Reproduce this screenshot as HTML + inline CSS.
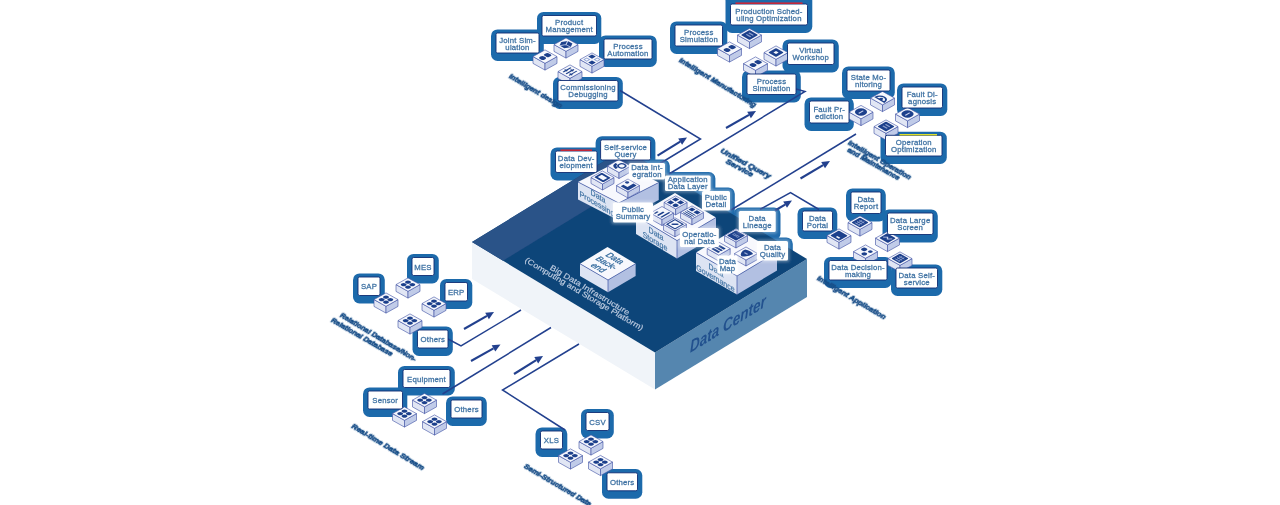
<!DOCTYPE html><html><head><meta charset="utf-8"><title>Data Center</title><style>html,body{margin:0;padding:0;background:#fff;width:1280px;height:505px;overflow:hidden}svg{display:block}text{font-family:"Liberation Sans",sans-serif}.lt{letter-spacing:.2px}</style></head><body><svg width="1280" height="505" viewBox="0 0 1280 505">
<defs><filter id="b0" x="-10%" y="-50%" width="120%" height="200%"><feGaussianBlur stdDeviation="0.35"/></filter><filter id="b1" x="-20%" y="-20%" width="140%" height="140%"><feGaussianBlur stdDeviation="1.6"/></filter><filter id="b2"><feGaussianBlur stdDeviation="0.3"/></filter><linearGradient id="gt" x1="0" y1="0" x2="1" y2="1"><stop offset="0" stop-color="#eef1fa"/><stop offset=".5" stop-color="#ffffff"/><stop offset="1" stop-color="#f1f3fb"/></linearGradient></defs>
<rect width="1280" height="505" fill="#fff"/>
<g filter="url(#b2)">
<rect x="537.0" y="11.9" width="64.3" height="32.1" rx="6.5" fill="#1f6aab"/>
<rect x="491.0" y="29.4" width="52.8" height="31.6" rx="6.5" fill="#1f6aab"/>
<rect x="599.0" y="35.4" width="57.8" height="31.6" rx="6.5" fill="#1f6aab"/>
<rect x="553.0" y="76.9" width="69.8" height="32.1" rx="6.5" fill="#1f6aab"/>
<rect x="670.0" y="21.4" width="57.3" height="32.6" rx="6.5" fill="#1f6aab"/>
<rect x="725.5" y="-6" width="86.8" height="39.0" rx="6.5" fill="#1f6aab"/>
<rect x="782.5" y="39.4" width="56.3" height="33.1" rx="6.5" fill="#1f6aab"/>
<rect x="742.0" y="70.4" width="58.8" height="32.1" rx="6.5" fill="#1f6aab"/>
<rect x="842.0" y="66.4" width="52.8" height="32.6" rx="6.5" fill="#1f6aab"/>
<rect x="897.0" y="83.4" width="50.3" height="32.6" rx="6.5" fill="#1f6aab"/>
<rect x="804.5" y="97.4" width="49.3" height="33.6" rx="6.5" fill="#1f6aab"/>
<rect x="880.5" y="131.7" width="66.3" height="32.3" rx="6.5" fill="#1f6aab"/>
<rect x="846.0" y="188.4" width="39.8" height="33.1" rx="6.5" fill="#1f6aab"/>
<rect x="797.5" y="207.4" width="39.8" height="31.6" rx="6.5" fill="#1f6aab"/>
<rect x="882.5" y="209.4" width="55.3" height="33.1" rx="6.5" fill="#1f6aab"/>
<rect x="824.0" y="256.9" width="67.8" height="31.1" rx="6.5" fill="#1f6aab"/>
<rect x="891.0" y="264.4" width="51.3" height="31.6" rx="6.5" fill="#1f6aab"/>
<rect x="407.0" y="253.9" width="31.8" height="29.6" rx="6.5" fill="#1f6aab"/>
<rect x="353.0" y="273.4" width="31.8" height="30.1" rx="6.5" fill="#1f6aab"/>
<rect x="440.0" y="278.9" width="32.3" height="30.1" rx="6.5" fill="#1f6aab"/>
<rect x="412.5" y="326.4" width="40.3" height="29.6" rx="6.5" fill="#1f6aab"/>
<rect x="398.0" y="365.9" width="56.8" height="29.6" rx="6.5" fill="#1f6aab"/>
<rect x="363.0" y="387.4" width="44.3" height="29.6" rx="6.5" fill="#1f6aab"/>
<rect x="446.0" y="396.4" width="40.8" height="29.6" rx="6.5" fill="#1f6aab"/>
<rect x="535.5" y="427.4" width="31.8" height="29.6" rx="6.5" fill="#1f6aab"/>
<rect x="581.0" y="408.9" width="32.8" height="29.6" rx="6.5" fill="#1f6aab"/>
<rect x="602.0" y="469.1" width="40.3" height="29.6" rx="6.5" fill="#1f6aab"/>
<rect x="550.5" y="147.4" width="51.3" height="33.1" rx="6.5" fill="#1f6aab"/>
<rect x="595.6" y="136.2" width="59.8" height="31.9" rx="6.5" fill="#1f6aab"/>
<rect x="624.0" y="159.4" width="45.8" height="28.0" rx="6.5" fill="#1f6aab"/>
<rect x="660.0" y="172.0" width="55.4" height="27.0" rx="6.5" fill="#1f6aab"/>
<rect x="697.0" y="187.4" width="37.8" height="31.2" rx="6.5" fill="#1f6aab"/>
<rect x="733.8" y="207.4" width="46.7" height="32.6" rx="6.5" fill="#1f6aab"/>
<rect x="752.0" y="237.4" width="40.8" height="31.1" rx="6.5" fill="#1f6aab"/>
<rect x="608.0" y="198.9" width="49.8" height="31.6" rx="6.5" fill="#1f6aab"/>
<rect x="675.0" y="224.4" width="48.5" height="30.6" rx="6.5" fill="#1f6aab"/>
<rect x="712.5" y="252.0" width="29.8" height="29.5" rx="6.5" fill="#1f6aab"/>
<path d="M472 242 L655 352.5 L655 389.5 L472 279Z" fill="#f0f4f9"/>
<path d="M807 259 L655 352.5 L655 389.5 L807 297Z" fill="#5586af"/>
<path d="M472 242 L624 149 L807 259 L655 352.5Z" fill="#0e4579"/>
<path d="M472 242 L624 149 L655 167.7 L503 260.7Z" fill="#2b5288"/>
<text transform="matrix(0.852 -0.524 0 1 690 353)" font-size="17" font-weight="bold" font-style="italic" fill="#22518e" textLength="89" lengthAdjust="spacingAndGlyphs">Data Center</text>
<text transform="matrix(0.861 0.509 -0.486 0.756 549.3 268.9)" font-size="8.6" fill="#bccbe0" stroke="#bccbe0" stroke-width=".2" font-weight="normal" text-anchor="start" textLength="91" lengthAdjust="spacingAndGlyphs">Big Data Infrastructure</text>
<text transform="matrix(0.861 0.509 -0.486 0.756 524.3 261.6)" font-size="8.6" fill="#bccbe0" stroke="#bccbe0" stroke-width=".2" font-weight="normal" text-anchor="start" textLength="136" lengthAdjust="spacingAndGlyphs">(Computing and Storage Platform)</text>
<path d="M580 263.75 L608 280 L608 292.3 L580 276.05Z" fill="#dde4f3"/><path d="M635.6 263.75 L608 280 L608 292.3 L635.6 276.05Z" fill="#b2c0e2"/><path d="M580 263.75 L607.5 247 L635.6 263.75 L608 280Z" fill="#f7f8fd"/><path d="M580 263.75 L608 280 L635.6 263.75 M608 280 V292.3" fill="none" stroke="#3b50a3" stroke-width=".7"/>
<text transform="matrix(0.775 0.458 -0.86 0.5 612.3 260.0)" font-size="9.3" fill="#336a9d" stroke="#336a9d" stroke-width=".3" text-anchor="middle">Data</text>
<text transform="matrix(0.775 0.458 -0.86 0.5 604.0 264.6)" font-size="9.3" fill="#336a9d" stroke="#336a9d" stroke-width=".3" text-anchor="middle">Back-</text>
<text transform="matrix(0.775 0.458 -0.86 0.5 595.7 269.2)" font-size="9.3" fill="#336a9d" stroke="#336a9d" stroke-width=".3" text-anchor="middle">end</text>
<path d="M578 182 L618.75 203 L618.75 220.5 L578 199.5Z" fill="#dde4f3"/><path d="M658.75 182.5 L618.75 203 L618.75 220.5 L658.75 200.0Z" fill="#b2c0e2"/><path d="M578 182 L618 161.5 L658.75 182.5 L618.75 203Z" fill="#f7f8fd"/><path d="M578 182 L618.75 203 L658.75 182.5 M618.75 203 V220.5" fill="none" stroke="#3b50a3" stroke-width=".7"/>
<path d="M636 216 L677 240.6 L677 258.6 L636 234Z" fill="#dde4f3"/><path d="M716 217.5 L677 240.6 L677 258.6 L716 235.5Z" fill="#b2c0e2"/><path d="M636 216 L675 193 L716 217.5 L677 240.6Z" fill="#f7f8fd"/><path d="M636 216 L677 240.6 L716 217.5 M677 240.6 V258.6" fill="none" stroke="#3b50a3" stroke-width=".7"/>
<path d="M696 252.5 L737 276 L737 294.5 L696 271.0Z" fill="#dde4f3"/><path d="M777 252 L737 276 L737 294.5 L777 270.5Z" fill="#b2c0e2"/><path d="M696 252.5 L736 228.5 L777 252 L737 276Z" fill="#f7f8fd"/><path d="M696 252.5 L737 276 L777 252 M737 276 V294.5" fill="none" stroke="#3b50a3" stroke-width=".7"/>
<text transform="matrix(0.86 0.51 0 1 598 199)" font-size="8.2" fill="#3f72a3" stroke="#3f72a3" stroke-width=".2" text-anchor="middle">Data</text>
<text transform="matrix(0.86 0.51 0 1 597 206.5)" font-size="8.2" fill="#3f72a3" stroke="#3f72a3" stroke-width=".2" text-anchor="middle">Processing</text>
<text transform="matrix(0.86 0.51 0 1 656 236.5)" font-size="8.2" fill="#3f72a3" stroke="#3f72a3" stroke-width=".2" text-anchor="middle">Data</text>
<text transform="matrix(0.86 0.51 0 1 655 244)" font-size="8.2" fill="#3f72a3" stroke="#3f72a3" stroke-width=".2" text-anchor="middle">Storage</text>
<text transform="matrix(0.86 0.51 0 1 716 273)" font-size="8.2" fill="#3f72a3" stroke="#3f72a3" stroke-width=".2" text-anchor="middle">Data</text>
<text transform="matrix(0.86 0.51 0 1 715.5 281)" font-size="8.2" fill="#3f72a3" stroke="#3f72a3" stroke-width=".2" text-anchor="middle">Governance</text>
<path d="M620.0 90.5 L700.5 139.0 L660.0 163.5" stroke="#22408e" stroke-width="1.5" fill="none" stroke-linejoin="miter"/>
<path d="M657.5 155.6 L680.2 141.7" stroke="#22408e" stroke-width="2.1" fill="none"/><path d="M687.0 137.5 L682.1 144.8 L678.2 138.5Z" fill="#22408e"/>
<path d="M796.0 89.0 L805.0 91.5 L669.0 174.0" stroke="#22408e" stroke-width="1.5" fill="none" stroke-linejoin="miter"/>
<path d="M726.0 128.0 L749.0 114.9" stroke="#22408e" stroke-width="2.1" fill="none"/><path d="M756.0 111.0 L750.9 118.2 L747.2 111.7Z" fill="#22408e"/>
<path d="M856.0 134.0 L731.0 210.0" stroke="#22408e" stroke-width="1.5" fill="none" stroke-linejoin="miter"/>
<path d="M800.5 178.5 L823.1 165.1" stroke="#22408e" stroke-width="2.1" fill="none"/><path d="M830.0 161.0 L825.0 168.3 L821.2 161.9Z" fill="#22408e"/>
<path d="M760.0 209.5 L790.5 192.5 L819.0 209.5" stroke="#22408e" stroke-width="1.5" fill="none" stroke-linejoin="miter"/>
<path d="M775.0 210.5 L785.1 204.6" stroke="#22408e" stroke-width="2.1" fill="none"/><path d="M792.0 200.5 L787.0 207.7 L783.2 201.4Z" fill="#22408e"/>
<path d="M448.0 339.0 L461.0 346.0 L521.0 310.0" stroke="#22408e" stroke-width="1.5" fill="none" stroke-linejoin="miter"/>
<path d="M464.0 329.0 L487.0 315.9" stroke="#22408e" stroke-width="2.1" fill="none"/><path d="M494.0 312.0 L488.9 319.2 L485.2 312.7Z" fill="#22408e"/>
<path d="M442.5 394.0 L551.0 327.5" stroke="#22408e" stroke-width="1.5" fill="none" stroke-linejoin="miter"/>
<path d="M471.0 361.0 L493.5 348.4" stroke="#22408e" stroke-width="2.1" fill="none"/><path d="M500.5 344.5 L495.3 351.6 L491.7 345.2Z" fill="#22408e"/>
<path d="M579.0 344.0 L502.5 390.0 L565.0 430.0" stroke="#22408e" stroke-width="1.5" fill="none" stroke-linejoin="miter"/>
<path d="M514.0 374.0 L536.2 360.2" stroke="#22408e" stroke-width="2.1" fill="none"/><path d="M543.0 356.0 L538.2 363.4 L534.3 357.1Z" fill="#22408e"/>
<g><path d="M554.0 44.6 L566.0 51.3 L566.0 58.1 L554.0 51.4Z" fill="#e1e6f4" stroke="#3d4fa3" stroke-width=".6"/><path d="M578.0 44.6 L566.0 51.3 L566.0 58.1 L578.0 51.4Z" fill="#c0cbe8" stroke="#3d4fa3" stroke-width=".6"/><path d="M554.0 44.6 L566.0 37.9 L578.0 44.6 L566.0 51.3Z" fill="#f6f8fd" stroke="#3d4fa3" stroke-width=".6"/><g transform="translate(566.0 44.6) matrix(0.866 0.5 -0.866 0.5 0 0)" fill="#1f418c"><path d="M5.4 0L2.7 4.7L-2.7 4.7L-5.4 0L-2.7 -4.7L2.7 -4.7Z"/><path d="M0 0L5.4 0M0 0L-2.7 4.7M0 0L-2.7 -4.7" stroke="#c9d3ee" stroke-width=".9"/></g></g>
<g><path d="M533.0 56.6 L545.0 63.3 L545.0 70.1 L533.0 63.4Z" fill="#e1e6f4" stroke="#3d4fa3" stroke-width=".6"/><path d="M557.0 56.6 L545.0 63.3 L545.0 70.1 L557.0 63.4Z" fill="#c0cbe8" stroke="#3d4fa3" stroke-width=".6"/><path d="M533.0 56.6 L545.0 49.9 L557.0 56.6 L545.0 63.3Z" fill="#f6f8fd" stroke="#3d4fa3" stroke-width=".6"/><g transform="translate(545.0 56.6) matrix(0.866 0.5 -0.866 0.5 0 0)" fill="#1f418c"><g transform="rotate(-90)"><rect x="-5.2" y="-2.7" width="4.8" height="5.4" rx="2.2"/><rect x="0.6" y="-2.7" width="4.8" height="5.4" rx="1.3"/></g></g></g>
<g><path d="M580.0 59.6 L592.0 66.3 L592.0 73.1 L580.0 66.4Z" fill="#e1e6f4" stroke="#3d4fa3" stroke-width=".6"/><path d="M604.0 59.6 L592.0 66.3 L592.0 73.1 L604.0 66.4Z" fill="#c0cbe8" stroke="#3d4fa3" stroke-width=".6"/><path d="M580.0 59.6 L592.0 52.9 L604.0 59.6 L592.0 66.3Z" fill="#f6f8fd" stroke="#3d4fa3" stroke-width=".6"/><g transform="translate(592.0 59.6) matrix(0.866 0.5 -0.866 0.5 0 0)" fill="#1f418c"><rect x="-5.2" y="-5.2" width="4.4" height="4.4"/><rect x="0.8" y="0.8" width="4.4" height="4.4"/><rect x="-4.6" y="1.4" width="3.2" height="3.2" fill="none" stroke="#8ea2d3" stroke-width="1"/><rect x="1.4" y="-4.6" width="3.2" height="3.2" fill="none" stroke="#8ea2d3" stroke-width="1"/></g></g>
<g><path d="M558.0 71.6 L570.0 78.3 L570.0 85.1 L558.0 78.4Z" fill="#e1e6f4" stroke="#3d4fa3" stroke-width=".6"/><path d="M582.0 71.6 L570.0 78.3 L570.0 85.1 L582.0 78.4Z" fill="#c0cbe8" stroke="#3d4fa3" stroke-width=".6"/><path d="M558.0 71.6 L570.0 64.9 L582.0 71.6 L570.0 78.3Z" fill="#f6f8fd" stroke="#3d4fa3" stroke-width=".6"/><g transform="translate(570.0 71.6) matrix(0.866 0.5 -0.866 0.5 0 0)" fill="#1f418c"><g transform="rotate(-90)"><rect x="-4.5" y="-4" width="9" height="1.2"/><rect x="-4.5" y="-0.6" width="9" height="1.2"/><rect x="-4.5" y="2.8" width="9" height="1.2"/><rect x="-2" y="-5" width="1.6" height="3"/><rect x="1.5" y="-1.6" width="1.6" height="3"/><rect x="-3" y="1.8" width="1.6" height="3"/></g></g></g>
<g><path d="M737.5 35.1 L749.5 41.8 L749.5 48.6 L737.5 41.9Z" fill="#e1e6f4" stroke="#3d4fa3" stroke-width=".6"/><path d="M761.5 35.1 L749.5 41.8 L749.5 48.6 L761.5 41.9Z" fill="#c0cbe8" stroke="#3d4fa3" stroke-width=".6"/><path d="M737.5 35.1 L749.5 28.4 L761.5 35.1 L749.5 41.8Z" fill="#f6f8fd" stroke="#3d4fa3" stroke-width=".6"/><g transform="translate(749.5 35.1) matrix(0.866 0.5 -0.866 0.5 0 0)" fill="#1f418c"><rect x="-5" y="-5" width="10" height="10" rx="1"/><rect x="-2.5" y="-2.5" width="5" height="1.2" fill="#8fa3d0"/><rect x="-2.5" y="0.5" width="5" height="1.2" fill="#8fa3d0"/></g></g>
<g><path d="M717.5 48.6 L729.5 55.3 L729.5 62.1 L717.5 55.4Z" fill="#e1e6f4" stroke="#3d4fa3" stroke-width=".6"/><path d="M741.5 48.6 L729.5 55.3 L729.5 62.1 L741.5 55.4Z" fill="#c0cbe8" stroke="#3d4fa3" stroke-width=".6"/><path d="M717.5 48.6 L729.5 41.9 L741.5 48.6 L729.5 55.3Z" fill="#f6f8fd" stroke="#3d4fa3" stroke-width=".6"/><g transform="translate(729.5 48.6) matrix(0.866 0.5 -0.866 0.5 0 0)" fill="#1f418c"><g transform="rotate(-90)"><rect x="-5.2" y="-2.7" width="4.8" height="5.4" rx="2.2"/><rect x="0.6" y="-2.7" width="4.8" height="5.4" rx="1.3"/></g></g></g>
<g><path d="M764.0 52.6 L776.0 59.3 L776.0 66.1 L764.0 59.4Z" fill="#e1e6f4" stroke="#3d4fa3" stroke-width=".6"/><path d="M788.0 52.6 L776.0 59.3 L776.0 66.1 L788.0 59.4Z" fill="#c0cbe8" stroke="#3d4fa3" stroke-width=".6"/><path d="M764.0 52.6 L776.0 45.9 L788.0 52.6 L776.0 59.3Z" fill="#f6f8fd" stroke="#3d4fa3" stroke-width=".6"/><g transform="translate(776.0 52.6) matrix(0.866 0.5 -0.866 0.5 0 0)" fill="#1f418c"><rect x="-4.5" y="-4.5" width="9" height="9" rx="1"/><rect x="-1.5" y="-1.5" width="3" height="3" fill="#f6f8fd"/></g></g>
<g><path d="M743.5 63.6 L755.5 70.3 L755.5 77.1 L743.5 70.4Z" fill="#e1e6f4" stroke="#3d4fa3" stroke-width=".6"/><path d="M767.5 63.6 L755.5 70.3 L755.5 77.1 L767.5 70.4Z" fill="#c0cbe8" stroke="#3d4fa3" stroke-width=".6"/><path d="M743.5 63.6 L755.5 56.9 L767.5 63.6 L755.5 70.3Z" fill="#f6f8fd" stroke="#3d4fa3" stroke-width=".6"/><g transform="translate(755.5 63.6) matrix(0.866 0.5 -0.866 0.5 0 0)" fill="#1f418c"><g transform="rotate(-90)"><rect x="-5.2" y="-2.7" width="4.8" height="5.4" rx="2.2"/><rect x="0.6" y="-2.7" width="4.8" height="5.4" rx="1.3"/></g></g></g>
<g><path d="M870.5 98.1 L882.5 104.8 L882.5 111.6 L870.5 104.9Z" fill="#e1e6f4" stroke="#3d4fa3" stroke-width=".6"/><path d="M894.5 98.1 L882.5 104.8 L882.5 111.6 L894.5 104.9Z" fill="#c0cbe8" stroke="#3d4fa3" stroke-width=".6"/><path d="M870.5 98.1 L882.5 91.4 L894.5 98.1 L882.5 104.8Z" fill="#f6f8fd" stroke="#3d4fa3" stroke-width=".6"/><g transform="translate(882.5 98.1) matrix(0.866 0.5 -0.866 0.5 0 0)" fill="#1f418c"><path d="M-5 3A5 5 0 1 1 5 3Z" fill="none" stroke="#1f418c" stroke-width="1.6"/><circle cx="0" cy="1.5" r="1.6"/></g></g>
<g><path d="M849.0 112.1 L861.0 118.8 L861.0 125.6 L849.0 118.9Z" fill="#e1e6f4" stroke="#3d4fa3" stroke-width=".6"/><path d="M873.0 112.1 L861.0 118.8 L861.0 125.6 L873.0 118.9Z" fill="#c0cbe8" stroke="#3d4fa3" stroke-width=".6"/><path d="M849.0 112.1 L861.0 105.4 L873.0 112.1 L861.0 118.8Z" fill="#f6f8fd" stroke="#3d4fa3" stroke-width=".6"/><g transform="translate(861.0 112.1) matrix(0.866 0.5 -0.866 0.5 0 0)" fill="#1f418c"><circle r="5"/><rect x="-0.6" y="-2.6" width="1.2" height="5.2" fill="#c9d3ee"/></g></g>
<g><path d="M895.5 114.1 L907.5 120.8 L907.5 127.6 L895.5 120.9Z" fill="#e1e6f4" stroke="#3d4fa3" stroke-width=".6"/><path d="M919.5 114.1 L907.5 120.8 L907.5 127.6 L919.5 120.9Z" fill="#c0cbe8" stroke="#3d4fa3" stroke-width=".6"/><path d="M895.5 114.1 L907.5 107.4 L919.5 114.1 L907.5 120.8Z" fill="#f6f8fd" stroke="#3d4fa3" stroke-width=".6"/><g transform="translate(907.5 114.1) matrix(0.866 0.5 -0.866 0.5 0 0)" fill="#1f418c"><circle r="5"/><rect x="-0.6" y="-2.6" width="1.2" height="5.2" fill="#c9d3ee"/></g></g>
<g><path d="M874.0 126.6 L886.0 133.3 L886.0 140.1 L874.0 133.4Z" fill="#e1e6f4" stroke="#3d4fa3" stroke-width=".6"/><path d="M898.0 126.6 L886.0 133.3 L886.0 140.1 L898.0 133.4Z" fill="#c0cbe8" stroke="#3d4fa3" stroke-width=".6"/><path d="M874.0 126.6 L886.0 119.9 L898.0 126.6 L886.0 133.3Z" fill="#f6f8fd" stroke="#3d4fa3" stroke-width=".6"/><g transform="translate(886.0 126.6) matrix(0.866 0.5 -0.866 0.5 0 0)" fill="#1f418c"><rect x="-5" y="-5" width="10" height="10" rx="1"/><rect x="-2.5" y="-2.5" width="5" height="1.2" fill="#8fa3d0"/><rect x="-2.5" y="0.5" width="5" height="1.2" fill="#8fa3d0"/></g></g>
<g><path d="M848.0 222.6 L860.0 229.3 L860.0 236.1 L848.0 229.4Z" fill="#e1e6f4" stroke="#3d4fa3" stroke-width=".6"/><path d="M872.0 222.6 L860.0 229.3 L860.0 236.1 L872.0 229.4Z" fill="#c0cbe8" stroke="#3d4fa3" stroke-width=".6"/><path d="M848.0 222.6 L860.0 215.9 L872.0 222.6 L860.0 229.3Z" fill="#f6f8fd" stroke="#3d4fa3" stroke-width=".6"/><g transform="translate(860.0 222.6) matrix(0.866 0.5 -0.866 0.5 0 0)" fill="#1f418c"><rect x="-5" y="-5" width="10" height="10" rx="1"/><path d="M-3 -2H3M-3 0.5H3M-3 3H3M-1 -3.5V3.5M1.5 -3.5V3.5" stroke="#8fa3d0" stroke-width=".7"/></g></g>
<g><path d="M827.0 235.6 L839.0 242.3 L839.0 249.1 L827.0 242.4Z" fill="#e1e6f4" stroke="#3d4fa3" stroke-width=".6"/><path d="M851.0 235.6 L839.0 242.3 L839.0 249.1 L851.0 242.4Z" fill="#c0cbe8" stroke="#3d4fa3" stroke-width=".6"/><path d="M827.0 235.6 L839.0 228.9 L851.0 235.6 L839.0 242.3Z" fill="#f6f8fd" stroke="#3d4fa3" stroke-width=".6"/><g transform="translate(839.0 235.6) matrix(0.866 0.5 -0.866 0.5 0 0)" fill="#1f418c"><rect x="-5.2" y="-5" width="10.4" height="10" rx="1"/><rect x="-0.5" y="1.5" width="3.5" height="1.6" fill="#f6f8fd"/></g></g>
<g><path d="M875.5 238.1 L887.5 244.8 L887.5 251.6 L875.5 244.9Z" fill="#e1e6f4" stroke="#3d4fa3" stroke-width=".6"/><path d="M899.5 238.1 L887.5 244.8 L887.5 251.6 L899.5 244.9Z" fill="#c0cbe8" stroke="#3d4fa3" stroke-width=".6"/><path d="M875.5 238.1 L887.5 231.4 L899.5 238.1 L887.5 244.8Z" fill="#f6f8fd" stroke="#3d4fa3" stroke-width=".6"/><g transform="translate(887.5 238.1) matrix(0.866 0.5 -0.866 0.5 0 0)" fill="#1f418c"><rect x="-5" y="-4.6" width="10" height="9.2" rx="1"/><path d="M-3.5 1.5L-1 -1L1 1L3.5 -2" stroke="#c9d3ee" stroke-width="1.1" fill="none"/></g></g>
<g><path d="M853.5 251.6 L865.5 258.3 L865.5 265.1 L853.5 258.4Z" fill="#e1e6f4" stroke="#3d4fa3" stroke-width=".6"/><path d="M877.5 251.6 L865.5 258.3 L865.5 265.1 L877.5 258.4Z" fill="#c0cbe8" stroke="#3d4fa3" stroke-width=".6"/><path d="M853.5 251.6 L865.5 244.9 L877.5 251.6 L865.5 258.3Z" fill="#f6f8fd" stroke="#3d4fa3" stroke-width=".6"/><g transform="translate(865.5 251.6) matrix(0.866 0.5 -0.866 0.5 0 0)" fill="#1f418c"><circle cx="-3" cy="-1.5" r="2.4"/><circle cx="2.8" cy="-2.8" r="1.9"/><circle cx="1.6" cy="3" r="2.2"/></g></g>
<g><path d="M888.0 258.6 L900.0 265.3 L900.0 272.1 L888.0 265.4Z" fill="#e1e6f4" stroke="#3d4fa3" stroke-width=".6"/><path d="M912.0 258.6 L900.0 265.3 L900.0 272.1 L912.0 265.4Z" fill="#c0cbe8" stroke="#3d4fa3" stroke-width=".6"/><path d="M888.0 258.6 L900.0 251.9 L912.0 258.6 L900.0 265.3Z" fill="#f6f8fd" stroke="#3d4fa3" stroke-width=".6"/><g transform="translate(900.0 258.6) matrix(0.866 0.5 -0.866 0.5 0 0)" fill="#1f418c"><rect x="-5" y="-5" width="10" height="10" rx="1"/><path d="M-3 -2H3M-3 0.5H3M-3 3H3M-1 -3.5V3.5M1.5 -3.5V3.5" stroke="#8fa3d0" stroke-width=".7"/></g></g>
<g><path d="M396.0 284.6 L408.0 291.3 L408.0 298.1 L396.0 291.4Z" fill="#e1e6f4" stroke="#3d4fa3" stroke-width=".6"/><path d="M420.0 284.6 L408.0 291.3 L408.0 298.1 L420.0 291.4Z" fill="#c0cbe8" stroke="#3d4fa3" stroke-width=".6"/><path d="M396.0 284.6 L408.0 277.9 L420.0 284.6 L408.0 291.3Z" fill="#f6f8fd" stroke="#3d4fa3" stroke-width=".6"/><g transform="translate(408.0 284.6) matrix(0.866 0.5 -0.866 0.5 0 0)" fill="#1f418c"><circle cx="-2.5" cy="-2.5" r="2.25"/><circle cx="2.5" cy="-2.5" r="2.25"/><circle cx="-2.5" cy="2.5" r="2.25"/><circle cx="2.5" cy="2.5" r="2.25"/></g></g>
<g><path d="M374.0 299.6 L386.0 306.3 L386.0 313.1 L374.0 306.4Z" fill="#e1e6f4" stroke="#3d4fa3" stroke-width=".6"/><path d="M398.0 299.6 L386.0 306.3 L386.0 313.1 L398.0 306.4Z" fill="#c0cbe8" stroke="#3d4fa3" stroke-width=".6"/><path d="M374.0 299.6 L386.0 292.9 L398.0 299.6 L386.0 306.3Z" fill="#f6f8fd" stroke="#3d4fa3" stroke-width=".6"/><g transform="translate(386.0 299.6) matrix(0.866 0.5 -0.866 0.5 0 0)" fill="#1f418c"><circle cx="-2.5" cy="-2.5" r="2.25"/><circle cx="2.5" cy="-2.5" r="2.25"/><circle cx="-2.5" cy="2.5" r="2.25"/><circle cx="2.5" cy="2.5" r="2.25"/></g></g>
<g><path d="M422.0 303.6 L434.0 310.3 L434.0 317.1 L422.0 310.4Z" fill="#e1e6f4" stroke="#3d4fa3" stroke-width=".6"/><path d="M446.0 303.6 L434.0 310.3 L434.0 317.1 L446.0 310.4Z" fill="#c0cbe8" stroke="#3d4fa3" stroke-width=".6"/><path d="M422.0 303.6 L434.0 296.9 L446.0 303.6 L434.0 310.3Z" fill="#f6f8fd" stroke="#3d4fa3" stroke-width=".6"/><g transform="translate(434.0 303.6) matrix(0.866 0.5 -0.866 0.5 0 0)" fill="#1f418c"><circle cx="-2.5" cy="-2.5" r="2.25"/><circle cx="2.5" cy="-2.5" r="2.25"/><circle cx="-2.5" cy="2.5" r="2.25"/><circle cx="2.5" cy="2.5" r="2.25"/></g></g>
<g><path d="M398.0 320.6 L410.0 327.3 L410.0 334.1 L398.0 327.4Z" fill="#e1e6f4" stroke="#3d4fa3" stroke-width=".6"/><path d="M422.0 320.6 L410.0 327.3 L410.0 334.1 L422.0 327.4Z" fill="#c0cbe8" stroke="#3d4fa3" stroke-width=".6"/><path d="M398.0 320.6 L410.0 313.9 L422.0 320.6 L410.0 327.3Z" fill="#f6f8fd" stroke="#3d4fa3" stroke-width=".6"/><g transform="translate(410.0 320.6) matrix(0.866 0.5 -0.866 0.5 0 0)" fill="#1f418c"><circle cx="-2.5" cy="-2.5" r="2.25"/><circle cx="2.5" cy="-2.5" r="2.25"/><circle cx="-2.5" cy="2.5" r="2.25"/><circle cx="2.5" cy="2.5" r="2.25"/></g></g>
<g><path d="M412.5 400.1 L424.5 406.8 L424.5 413.6 L412.5 406.9Z" fill="#e1e6f4" stroke="#3d4fa3" stroke-width=".6"/><path d="M436.5 400.1 L424.5 406.8 L424.5 413.6 L436.5 406.9Z" fill="#c0cbe8" stroke="#3d4fa3" stroke-width=".6"/><path d="M412.5 400.1 L424.5 393.4 L436.5 400.1 L424.5 406.8Z" fill="#f6f8fd" stroke="#3d4fa3" stroke-width=".6"/><g transform="translate(424.5 400.1) matrix(0.866 0.5 -0.866 0.5 0 0)" fill="#1f418c"><circle cx="-2.5" cy="-2.5" r="2.25"/><circle cx="2.5" cy="-2.5" r="2.25"/><circle cx="-2.5" cy="2.5" r="2.25"/><circle cx="2.5" cy="2.5" r="2.25"/></g></g>
<g><path d="M392.5 413.6 L404.5 420.3 L404.5 427.1 L392.5 420.4Z" fill="#e1e6f4" stroke="#3d4fa3" stroke-width=".6"/><path d="M416.5 413.6 L404.5 420.3 L404.5 427.1 L416.5 420.4Z" fill="#c0cbe8" stroke="#3d4fa3" stroke-width=".6"/><path d="M392.5 413.6 L404.5 406.9 L416.5 413.6 L404.5 420.3Z" fill="#f6f8fd" stroke="#3d4fa3" stroke-width=".6"/><g transform="translate(404.5 413.6) matrix(0.866 0.5 -0.866 0.5 0 0)" fill="#1f418c"><circle cx="-2.5" cy="-2.5" r="2.25"/><circle cx="2.5" cy="-2.5" r="2.25"/><circle cx="-2.5" cy="2.5" r="2.25"/><circle cx="2.5" cy="2.5" r="2.25"/></g></g>
<g><path d="M422.5 421.6 L434.5 428.3 L434.5 435.1 L422.5 428.4Z" fill="#e1e6f4" stroke="#3d4fa3" stroke-width=".6"/><path d="M446.5 421.6 L434.5 428.3 L434.5 435.1 L446.5 428.4Z" fill="#c0cbe8" stroke="#3d4fa3" stroke-width=".6"/><path d="M422.5 421.6 L434.5 414.9 L446.5 421.6 L434.5 428.3Z" fill="#f6f8fd" stroke="#3d4fa3" stroke-width=".6"/><g transform="translate(434.5 421.6) matrix(0.866 0.5 -0.866 0.5 0 0)" fill="#1f418c"><circle cx="-2.5" cy="-2.5" r="2.25"/><circle cx="2.5" cy="-2.5" r="2.25"/><circle cx="-2.5" cy="2.5" r="2.25"/><circle cx="2.5" cy="2.5" r="2.25"/></g></g>
<g><path d="M579.0 441.6 L591.0 448.3 L591.0 455.1 L579.0 448.4Z" fill="#e1e6f4" stroke="#3d4fa3" stroke-width=".6"/><path d="M603.0 441.6 L591.0 448.3 L591.0 455.1 L603.0 448.4Z" fill="#c0cbe8" stroke="#3d4fa3" stroke-width=".6"/><path d="M579.0 441.6 L591.0 434.9 L603.0 441.6 L591.0 448.3Z" fill="#f6f8fd" stroke="#3d4fa3" stroke-width=".6"/><g transform="translate(591.0 441.6) matrix(0.866 0.5 -0.866 0.5 0 0)" fill="#1f418c"><circle cx="-2.5" cy="-2.5" r="2.25"/><circle cx="2.5" cy="-2.5" r="2.25"/><circle cx="-2.5" cy="2.5" r="2.25"/><circle cx="2.5" cy="2.5" r="2.25"/></g></g>
<g><path d="M558.5 455.6 L570.5 462.3 L570.5 469.1 L558.5 462.4Z" fill="#e1e6f4" stroke="#3d4fa3" stroke-width=".6"/><path d="M582.5 455.6 L570.5 462.3 L570.5 469.1 L582.5 462.4Z" fill="#c0cbe8" stroke="#3d4fa3" stroke-width=".6"/><path d="M558.5 455.6 L570.5 448.9 L582.5 455.6 L570.5 462.3Z" fill="#f6f8fd" stroke="#3d4fa3" stroke-width=".6"/><g transform="translate(570.5 455.6) matrix(0.866 0.5 -0.866 0.5 0 0)" fill="#1f418c"><circle cx="-2.5" cy="-2.5" r="2.25"/><circle cx="2.5" cy="-2.5" r="2.25"/><circle cx="-2.5" cy="2.5" r="2.25"/><circle cx="2.5" cy="2.5" r="2.25"/></g></g>
<g><path d="M588.5 462.1 L600.5 468.8 L600.5 475.6 L588.5 468.9Z" fill="#e1e6f4" stroke="#3d4fa3" stroke-width=".6"/><path d="M612.5 462.1 L600.5 468.8 L600.5 475.6 L612.5 468.9Z" fill="#c0cbe8" stroke="#3d4fa3" stroke-width=".6"/><path d="M588.5 462.1 L600.5 455.4 L612.5 462.1 L600.5 468.8Z" fill="#f6f8fd" stroke="#3d4fa3" stroke-width=".6"/><g transform="translate(600.5 462.1) matrix(0.866 0.5 -0.866 0.5 0 0)" fill="#1f418c"><circle cx="-2.5" cy="-2.5" r="2.25"/><circle cx="2.5" cy="-2.5" r="2.25"/><circle cx="-2.5" cy="2.5" r="2.25"/><circle cx="2.5" cy="2.5" r="2.25"/></g></g>
<g><path d="M607.5 166.0 L619.0 172.5 L619.0 178.5 L607.5 172.0Z" fill="#e1e6f4" stroke="#3d4fa3" stroke-width=".6"/><path d="M630.5 166.0 L619.0 172.5 L619.0 178.5 L630.5 172.0Z" fill="#c0cbe8" stroke="#3d4fa3" stroke-width=".6"/><path d="M607.5 166.0 L619.0 159.5 L630.5 166.0 L619.0 172.5Z" fill="#f6f8fd" stroke="#3d4fa3" stroke-width=".6"/><g transform="translate(619.0 166.0) matrix(0.866 0.5 -0.866 0.5 0 0)" fill="#1f418c"><circle cx="1.5" cy="-1.8" r="3" fill="none" stroke="#1f418c" stroke-width="1.5"/><path d="M-5 -1Q-5 4.5 1 4.8L1 2.3Q-2.4 2.2 -2.6 -1Z"/></g></g>
<g><path d="M591.0 177.5 L602.5 184.0 L602.5 190.0 L591.0 183.5Z" fill="#e1e6f4" stroke="#3d4fa3" stroke-width=".6"/><path d="M614.0 177.5 L602.5 184.0 L602.5 190.0 L614.0 183.5Z" fill="#c0cbe8" stroke="#3d4fa3" stroke-width=".6"/><path d="M591.0 177.5 L602.5 171.0 L614.0 177.5 L602.5 184.0Z" fill="#f6f8fd" stroke="#3d4fa3" stroke-width=".6"/><g transform="translate(602.5 177.5) matrix(0.866 0.5 -0.866 0.5 0 0)" fill="#1f418c"><rect x="-5.2" y="-4.4" width="10.4" height="8.8" rx=".8"/><rect x="-3.2" y="-2.4" width="6.4" height="4.8" fill="#f6f8fd"/></g></g>
<g><path d="M616.5 185.5 L628.0 192.0 L628.0 198.0 L616.5 191.5Z" fill="#e1e6f4" stroke="#3d4fa3" stroke-width=".6"/><path d="M639.5 185.5 L628.0 192.0 L628.0 198.0 L639.5 191.5Z" fill="#c0cbe8" stroke="#3d4fa3" stroke-width=".6"/><path d="M616.5 185.5 L628.0 179.0 L639.5 185.5 L628.0 192.0Z" fill="#f6f8fd" stroke="#3d4fa3" stroke-width=".6"/><g transform="translate(628.0 185.5) matrix(0.866 0.5 -0.866 0.5 0 0)" fill="#1f418c"><g transform="rotate(-90)"><circle cx="2.6" cy="-3.6" r="1.7"/><path d="M-5 -3.5H-1.8V1.2H5V5H-5Z"/></g></g></g>
<g><path d="M664.1 202.4 L675.6 208.9 L675.6 214.9 L664.1 208.4Z" fill="#e1e6f4" stroke="#3d4fa3" stroke-width=".6"/><path d="M687.1 202.4 L675.6 208.9 L675.6 214.9 L687.1 208.4Z" fill="#c0cbe8" stroke="#3d4fa3" stroke-width=".6"/><path d="M664.1 202.4 L675.6 195.9 L687.1 202.4 L675.6 208.9Z" fill="#f6f8fd" stroke="#3d4fa3" stroke-width=".6"/><g transform="translate(675.6 202.4) matrix(0.866 0.5 -0.866 0.5 0 0)" fill="#1f418c"><rect x="-5" y="-5" width="4.2" height="4.2"/><rect x="0.8" y="-5" width="4.2" height="4.2"/><rect x="-5" y="0.8" width="4.2" height="4.2"/><circle cx="2.9" cy="2.9" r="2.3"/></g></g>
<g><path d="M650.5 213.0 L662.0 219.5 L662.0 225.5 L650.5 219.0Z" fill="#e1e6f4" stroke="#3d4fa3" stroke-width=".6"/><path d="M673.5 213.0 L662.0 219.5 L662.0 225.5 L673.5 219.0Z" fill="#c0cbe8" stroke="#3d4fa3" stroke-width=".6"/><path d="M650.5 213.0 L662.0 206.5 L673.5 213.0 L662.0 219.5Z" fill="#f6f8fd" stroke="#3d4fa3" stroke-width=".6"/><g transform="translate(662.0 213.0) matrix(0.866 0.5 -0.866 0.5 0 0)" fill="#1f418c"><g transform="rotate(-90)"><rect x="-5" y="-4.6" width="4" height="1.7"/><rect x="-5" y="-0.8" width="7" height="1.7"/><rect x="-5" y="3" width="10" height="1.7"/></g></g></g>
<g><path d="M680.5 212.4 L692.0 218.9 L692.0 224.9 L680.5 218.4Z" fill="#e1e6f4" stroke="#3d4fa3" stroke-width=".6"/><path d="M703.5 212.4 L692.0 218.9 L692.0 224.9 L703.5 218.4Z" fill="#c0cbe8" stroke="#3d4fa3" stroke-width=".6"/><path d="M680.5 212.4 L692.0 205.9 L703.5 212.4 L692.0 218.9Z" fill="#f6f8fd" stroke="#3d4fa3" stroke-width=".6"/><g transform="translate(692.0 212.4) matrix(0.866 0.5 -0.866 0.5 0 0)" fill="#1f418c"><rect x="-5" y="-5" width="4" height="4"/><rect x="0.6" y="-5" width="4.4" height="4"/><path d="M-5 1H5M-5 3H5M-5 5H5" stroke="#1f418c" stroke-width="1"/></g></g>
<g><path d="M663.5 224.3 L675.0 230.8 L675.0 236.8 L663.5 230.3Z" fill="#e1e6f4" stroke="#3d4fa3" stroke-width=".6"/><path d="M686.5 224.3 L675.0 230.8 L675.0 236.8 L686.5 230.3Z" fill="#c0cbe8" stroke="#3d4fa3" stroke-width=".6"/><path d="M663.5 224.3 L675.0 217.8 L686.5 224.3 L675.0 230.8Z" fill="#f6f8fd" stroke="#3d4fa3" stroke-width=".6"/><g transform="translate(675.0 224.3) matrix(0.866 0.5 -0.866 0.5 0 0)" fill="#1f418c"><rect x="-4.6" y="-4.6" width="9.2" height="9.2" fill="none" stroke="#1f418c" stroke-width="1.3"/><rect x="-3" y="-1.1" width="6" height="2.2" rx="1.1" transform="rotate(-45)"/></g></g>
<g><path d="M724.5 235.5 L736.0 242.0 L736.0 248.0 L724.5 241.5Z" fill="#e1e6f4" stroke="#3d4fa3" stroke-width=".6"/><path d="M747.5 235.5 L736.0 242.0 L736.0 248.0 L747.5 241.5Z" fill="#c0cbe8" stroke="#3d4fa3" stroke-width=".6"/><path d="M724.5 235.5 L736.0 229.0 L747.5 235.5 L736.0 242.0Z" fill="#f6f8fd" stroke="#3d4fa3" stroke-width=".6"/><g transform="translate(736.0 235.5) matrix(0.866 0.5 -0.866 0.5 0 0)" fill="#1f418c"><rect x="-5.2" y="-5.2" width="10.4" height="10.4" rx=".8"/><rect x="-3" y="-1" width="2.6" height="2" rx="1" fill="none" stroke="#9db0da" stroke-width=".7"/><rect x="0.4" y="-1" width="2.6" height="2" rx="1" fill="none" stroke="#9db0da" stroke-width=".7"/></g></g>
<g><path d="M707.2 248.6 L718.8 255.1 L718.8 261.1 L707.2 254.6Z" fill="#e1e6f4" stroke="#3d4fa3" stroke-width=".6"/><path d="M730.2 248.6 L718.8 255.1 L718.8 261.1 L730.2 254.6Z" fill="#c0cbe8" stroke="#3d4fa3" stroke-width=".6"/><path d="M707.2 248.6 L718.8 242.1 L730.2 248.6 L718.8 255.1Z" fill="#f6f8fd" stroke="#3d4fa3" stroke-width=".6"/><g transform="translate(718.8 248.6) matrix(0.866 0.5 -0.866 0.5 0 0)" fill="#1f418c"><g transform="rotate(-90)"><rect x="-4.6" y="-4" width="2.2" height="8"/><rect x="-1.4" y="-4" width="2.2" height="8"/><rect x="1.8" y="-3" width="2.2" height="7"/></g></g></g>
<g><path d="M734.5 253.5 L746.0 260.0 L746.0 266.0 L734.5 259.5Z" fill="#e1e6f4" stroke="#3d4fa3" stroke-width=".6"/><path d="M757.5 253.5 L746.0 260.0 L746.0 266.0 L757.5 259.5Z" fill="#c0cbe8" stroke="#3d4fa3" stroke-width=".6"/><path d="M734.5 253.5 L746.0 247.0 L757.5 253.5 L746.0 260.0Z" fill="#f6f8fd" stroke="#3d4fa3" stroke-width=".6"/><g transform="translate(746.0 253.5) matrix(0.866 0.5 -0.866 0.5 0 0)" fill="#1f418c"><path d="M-4.6 -3.6Q0 -6 4.6 -3.6Q5 2.6 0 5.4Q-5 2.6 -4.6 -3.6Z"/><rect x="-1.8" y="-0.6" width="3.6" height="1.2" fill="#9db0da"/></g></g>
<rect x="542.0" y="15.5" width="54.5" height="20.5" rx="1.6" fill="#fff" stroke="#0d2b73" stroke-width=".9"/><text transform="translate(569.2 25.4) scale(.985 1)" font-size="7.9" text-anchor="middle" fill="#3f72a3" stroke="#3f72a3" stroke-width=".28" class="lt">Product</text><text transform="translate(569.2 32.4) scale(.985 1)" font-size="7.9" text-anchor="middle" fill="#3f72a3" stroke="#3f72a3" stroke-width=".28" class="lt">Management</text>
<rect x="496.0" y="33.0" width="43.0" height="20.0" rx="1.6" fill="#fff" stroke="#0d2b73" stroke-width=".9"/><text transform="translate(517.5 42.6) scale(.985 1)" font-size="7.9" text-anchor="middle" fill="#3f72a3" stroke="#3f72a3" stroke-width=".28" class="lt">Joint Sim-</text><text transform="translate(517.5 49.6) scale(.985 1)" font-size="7.9" text-anchor="middle" fill="#3f72a3" stroke="#3f72a3" stroke-width=".28" class="lt">ulation</text>
<rect x="604.0" y="39.0" width="48.0" height="20.0" rx="1.6" fill="#fff" stroke="#0d2b73" stroke-width=".9"/><text transform="translate(628.0 48.6) scale(.985 1)" font-size="7.9" text-anchor="middle" fill="#3f72a3" stroke="#3f72a3" stroke-width=".28" class="lt">Process</text><text transform="translate(628.0 55.6) scale(.985 1)" font-size="7.9" text-anchor="middle" fill="#3f72a3" stroke="#3f72a3" stroke-width=".28" class="lt">Automation</text>
<rect x="558.0" y="80.5" width="60.0" height="20.5" rx="1.6" fill="#fff" stroke="#0d2b73" stroke-width=".9"/><text transform="translate(588.0 90.4) scale(.985 1)" font-size="7.9" text-anchor="middle" fill="#3f72a3" stroke="#3f72a3" stroke-width=".28" class="lt">Commissioning</text><text transform="translate(588.0 97.4) scale(.985 1)" font-size="7.9" text-anchor="middle" fill="#3f72a3" stroke="#3f72a3" stroke-width=".28" class="lt">Debugging</text>
<rect x="675.0" y="25.0" width="47.5" height="21.0" rx="1.6" fill="#fff" stroke="#0d2b73" stroke-width=".9"/><text transform="translate(698.8 35.1) scale(.985 1)" font-size="7.9" text-anchor="middle" fill="#3f72a3" stroke="#3f72a3" stroke-width=".28" class="lt">Process</text><text transform="translate(698.8 42.1) scale(.985 1)" font-size="7.9" text-anchor="middle" fill="#3f72a3" stroke="#3f72a3" stroke-width=".28" class="lt">Simulation</text>
<rect x="730.5" y="4.0" width="77.0" height="21.0" rx="1.6" fill="#fff" stroke="#0d2b73" stroke-width=".9"/><rect x="735.5" y="2.5" width="67.0" height="1.3" fill="#ee1c25"/><text transform="translate(769.0 14.1) scale(.985 1)" font-size="7.9" text-anchor="middle" fill="#3f72a3" stroke="#3f72a3" stroke-width=".28" class="lt">Production Sched-</text><text transform="translate(769.0 21.1) scale(.985 1)" font-size="7.9" text-anchor="middle" fill="#3f72a3" stroke="#3f72a3" stroke-width=".28" class="lt">uling Optimization</text>
<rect x="787.5" y="43.0" width="46.5" height="21.5" rx="1.6" fill="#fff" stroke="#0d2b73" stroke-width=".9"/><text transform="translate(810.8 53.4) scale(.985 1)" font-size="7.9" text-anchor="middle" fill="#3f72a3" stroke="#3f72a3" stroke-width=".28" class="lt">Virtual</text><text transform="translate(810.8 60.4) scale(.985 1)" font-size="7.9" text-anchor="middle" fill="#3f72a3" stroke="#3f72a3" stroke-width=".28" class="lt">Workshop</text>
<rect x="747.0" y="74.0" width="49.0" height="20.5" rx="1.6" fill="#fff" stroke="#0d2b73" stroke-width=".9"/><text transform="translate(771.5 83.9) scale(.985 1)" font-size="7.9" text-anchor="middle" fill="#3f72a3" stroke="#3f72a3" stroke-width=".28" class="lt">Process</text><text transform="translate(771.5 90.9) scale(.985 1)" font-size="7.9" text-anchor="middle" fill="#3f72a3" stroke="#3f72a3" stroke-width=".28" class="lt">Simulation</text>
<rect x="847.0" y="70.0" width="43.0" height="21.0" rx="1.6" fill="#fff" stroke="#0d2b73" stroke-width=".9"/><text transform="translate(868.5 80.1) scale(.985 1)" font-size="7.9" text-anchor="middle" fill="#3f72a3" stroke="#3f72a3" stroke-width=".28" class="lt">State Mo-</text><text transform="translate(868.5 87.1) scale(.985 1)" font-size="7.9" text-anchor="middle" fill="#3f72a3" stroke="#3f72a3" stroke-width=".28" class="lt">nitoring</text>
<rect x="902.0" y="87.0" width="40.5" height="21.0" rx="1.6" fill="#fff" stroke="#0d2b73" stroke-width=".9"/><text transform="translate(922.2 97.1) scale(.985 1)" font-size="7.9" text-anchor="middle" fill="#3f72a3" stroke="#3f72a3" stroke-width=".28" class="lt">Fault Di-</text><text transform="translate(922.2 104.1) scale(.985 1)" font-size="7.9" text-anchor="middle" fill="#3f72a3" stroke="#3f72a3" stroke-width=".28" class="lt">agnosis</text>
<rect x="809.5" y="101.0" width="39.5" height="22.0" rx="1.6" fill="#fff" stroke="#0d2b73" stroke-width=".9"/><text transform="translate(829.2 111.6) scale(.985 1)" font-size="7.9" text-anchor="middle" fill="#3f72a3" stroke="#3f72a3" stroke-width=".28" class="lt">Fault Pr-</text><text transform="translate(829.2 118.6) scale(.985 1)" font-size="7.9" text-anchor="middle" fill="#3f72a3" stroke="#3f72a3" stroke-width=".28" class="lt">ediction</text>
<rect x="885.5" y="135.3" width="56.5" height="20.7" rx="1.6" fill="#fff" stroke="#0d2b73" stroke-width=".9"/><rect x="899.5" y="134.1" width="37.5" height="1.3" fill="#f4ee1c"/><text transform="translate(913.8 145.3) scale(.985 1)" font-size="7.9" text-anchor="middle" fill="#3f72a3" stroke="#3f72a3" stroke-width=".28" class="lt">Operation</text><text transform="translate(913.8 152.3) scale(.985 1)" font-size="7.9" text-anchor="middle" fill="#3f72a3" stroke="#3f72a3" stroke-width=".28" class="lt">Optimization</text>
<rect x="851.0" y="192.0" width="30.0" height="21.5" rx="1.6" fill="#fff" stroke="#0d2b73" stroke-width=".9"/><text transform="translate(866.0 202.4) scale(.985 1)" font-size="7.9" text-anchor="middle" fill="#3f72a3" stroke="#3f72a3" stroke-width=".28" class="lt">Data</text><text transform="translate(866.0 209.4) scale(.985 1)" font-size="7.9" text-anchor="middle" fill="#3f72a3" stroke="#3f72a3" stroke-width=".28" class="lt">Report</text>
<rect x="802.5" y="211.0" width="30.0" height="20.0" rx="1.6" fill="#fff" stroke="#0d2b73" stroke-width=".9"/><text transform="translate(817.5 220.6) scale(.985 1)" font-size="7.9" text-anchor="middle" fill="#3f72a3" stroke="#3f72a3" stroke-width=".28" class="lt">Data</text><text transform="translate(817.5 227.6) scale(.985 1)" font-size="7.9" text-anchor="middle" fill="#3f72a3" stroke="#3f72a3" stroke-width=".28" class="lt">Portal</text>
<rect x="887.5" y="213.0" width="45.5" height="21.5" rx="1.6" fill="#fff" stroke="#0d2b73" stroke-width=".9"/><text transform="translate(910.2 223.4) scale(.985 1)" font-size="7.9" text-anchor="middle" fill="#3f72a3" stroke="#3f72a3" stroke-width=".28" class="lt">Data Large</text><text transform="translate(910.2 230.4) scale(.985 1)" font-size="7.9" text-anchor="middle" fill="#3f72a3" stroke="#3f72a3" stroke-width=".28" class="lt">Screen</text>
<rect x="829.0" y="260.5" width="58.0" height="19.5" rx="1.6" fill="#fff" stroke="#0d2b73" stroke-width=".9"/><text transform="translate(858.0 269.9) scale(.985 1)" font-size="7.9" text-anchor="middle" fill="#3f72a3" stroke="#3f72a3" stroke-width=".28" class="lt">Data Decision-</text><text transform="translate(858.0 276.9) scale(.985 1)" font-size="7.9" text-anchor="middle" fill="#3f72a3" stroke="#3f72a3" stroke-width=".28" class="lt">making</text>
<rect x="896.0" y="268.0" width="41.5" height="20.0" rx="1.6" fill="#fff" stroke="#0d2b73" stroke-width=".9"/><text transform="translate(916.8 277.6) scale(.985 1)" font-size="7.9" text-anchor="middle" fill="#3f72a3" stroke="#3f72a3" stroke-width=".28" class="lt">Data Self-</text><text transform="translate(916.8 284.6) scale(.985 1)" font-size="7.9" text-anchor="middle" fill="#3f72a3" stroke="#3f72a3" stroke-width=".28" class="lt">service</text>
<rect x="412.0" y="257.5" width="22.0" height="18.0" rx="1.6" fill="#fff" stroke="#0d2b73" stroke-width=".9"/><text transform="translate(423.0 269.6) scale(.985 1)" font-size="7.9" text-anchor="middle" fill="#3f72a3" stroke="#3f72a3" stroke-width=".28" class="lt">MES</text>
<rect x="358.0" y="277.0" width="22.0" height="18.5" rx="1.6" fill="#fff" stroke="#0d2b73" stroke-width=".9"/><text transform="translate(369.0 289.4) scale(.985 1)" font-size="7.9" text-anchor="middle" fill="#3f72a3" stroke="#3f72a3" stroke-width=".28" class="lt">SAP</text>
<rect x="445.0" y="282.5" width="22.5" height="18.5" rx="1.6" fill="#fff" stroke="#0d2b73" stroke-width=".9"/><text transform="translate(456.2 294.9) scale(.985 1)" font-size="7.9" text-anchor="middle" fill="#3f72a3" stroke="#3f72a3" stroke-width=".28" class="lt">ERP</text>
<rect x="417.5" y="330.0" width="30.5" height="18.0" rx="1.6" fill="#fff" stroke="#0d2b73" stroke-width=".9"/><text transform="translate(432.8 342.1) scale(.985 1)" font-size="7.9" text-anchor="middle" fill="#3f72a3" stroke="#3f72a3" stroke-width=".28" class="lt">Others</text>
<rect x="403.0" y="369.5" width="47.0" height="18.0" rx="1.6" fill="#fff" stroke="#0d2b73" stroke-width=".9"/><text transform="translate(426.5 381.6) scale(.985 1)" font-size="7.9" text-anchor="middle" fill="#3f72a3" stroke="#3f72a3" stroke-width=".28" class="lt">Equipment</text>
<rect x="368.0" y="391.0" width="34.5" height="18.0" rx="1.6" fill="#fff" stroke="#0d2b73" stroke-width=".9"/><text transform="translate(385.2 403.1) scale(.985 1)" font-size="7.9" text-anchor="middle" fill="#3f72a3" stroke="#3f72a3" stroke-width=".28" class="lt">Sensor</text>
<rect x="451.0" y="400.0" width="31.0" height="18.0" rx="1.6" fill="#fff" stroke="#0d2b73" stroke-width=".9"/><text transform="translate(466.5 412.1) scale(.985 1)" font-size="7.9" text-anchor="middle" fill="#3f72a3" stroke="#3f72a3" stroke-width=".28" class="lt">Others</text>
<rect x="540.5" y="431.0" width="22.0" height="18.0" rx="1.6" fill="#fff" stroke="#0d2b73" stroke-width=".9"/><text transform="translate(551.5 443.1) scale(.985 1)" font-size="7.9" text-anchor="middle" fill="#3f72a3" stroke="#3f72a3" stroke-width=".28" class="lt">XLS</text>
<rect x="586.0" y="412.5" width="23.0" height="18.0" rx="1.6" fill="#fff" stroke="#0d2b73" stroke-width=".9"/><text transform="translate(597.5 424.6) scale(.985 1)" font-size="7.9" text-anchor="middle" fill="#3f72a3" stroke="#3f72a3" stroke-width=".28" class="lt">CSV</text>
<rect x="607.0" y="472.8" width="30.5" height="18.0" rx="1.6" fill="#fff" stroke="#0d2b73" stroke-width=".9"/><text transform="translate(622.2 484.9) scale(.985 1)" font-size="7.9" text-anchor="middle" fill="#3f72a3" stroke="#3f72a3" stroke-width=".28" class="lt">Others</text>
<rect x="555.5" y="151.0" width="41.5" height="21.5" rx="1.6" fill="#fff" stroke="#0d2b73" stroke-width=".9"/><rect x="560.5" y="149.5" width="31.5" height="1.3" fill="#ee1c25"/><text transform="translate(576.2 161.4) scale(.985 1)" font-size="7.9" text-anchor="middle" fill="#3f72a3" stroke="#3f72a3" stroke-width=".28" class="lt">Data Dev-</text><text transform="translate(576.2 168.4) scale(.985 1)" font-size="7.9" text-anchor="middle" fill="#3f72a3" stroke="#3f72a3" stroke-width=".28" class="lt">elopment</text>
<rect x="600.6" y="139.8" width="50.0" height="20.2" rx="1.6" fill="#fff" stroke="#0d2b73" stroke-width=".9"/><text transform="translate(625.6 149.5) scale(.985 1)" font-size="7.9" text-anchor="middle" fill="#3f72a3" stroke="#3f72a3" stroke-width=".28" class="lt">Self-service</text><text transform="translate(625.6 156.5) scale(.985 1)" font-size="7.9" text-anchor="middle" fill="#3f72a3" stroke="#3f72a3" stroke-width=".28" class="lt">Query</text>
<rect x="627.5" y="161.5" width="39.0" height="19.4" rx="2" fill="#fff" opacity=".35" filter="url(#b1)"/><rect x="629.0" y="163.0" width="36.0" height="16.4" rx="1.6" fill="#fff"/><text transform="translate(647.0 170.2) scale(.985 1)" font-size="7.9" text-anchor="middle" fill="#3f72a3" stroke="#3f72a3" stroke-width=".28" class="lt">Data Int-</text><text transform="translate(647.0 177.2) scale(.985 1)" font-size="7.9" text-anchor="middle" fill="#3f72a3" stroke="#3f72a3" stroke-width=".28" class="lt">egration</text>
<rect x="663.5" y="174.1" width="48.6" height="18.4" rx="2" fill="#fff" opacity=".35" filter="url(#b1)"/><rect x="665.0" y="175.6" width="45.6" height="15.4" rx="1.6" fill="#fff"/><text transform="translate(687.8 182.3) scale(.985 1)" font-size="7.9" text-anchor="middle" fill="#3f72a3" stroke="#3f72a3" stroke-width=".28" class="lt">Application</text><text transform="translate(687.8 189.3) scale(.985 1)" font-size="7.9" text-anchor="middle" fill="#3f72a3" stroke="#3f72a3" stroke-width=".28" class="lt">Data Layer</text>
<rect x="700.5" y="189.5" width="31.0" height="22.6" rx="2" fill="#fff" opacity=".35" filter="url(#b1)"/><rect x="702.0" y="191.0" width="28.0" height="19.6" rx="1.6" fill="#fff"/><text transform="translate(716.0 199.8) scale(.985 1)" font-size="7.9" text-anchor="middle" fill="#3f72a3" stroke="#3f72a3" stroke-width=".28" class="lt">Public</text><text transform="translate(716.0 206.8) scale(.985 1)" font-size="7.9" text-anchor="middle" fill="#3f72a3" stroke="#3f72a3" stroke-width=".28" class="lt">Detail</text>
<rect x="737.2" y="209.5" width="39.9" height="24.0" rx="2" fill="#fff" opacity=".35" filter="url(#b1)"/><rect x="738.8" y="211.0" width="36.9" height="21.0" rx="1.6" fill="#fff"/><text transform="translate(757.2 220.5) scale(.985 1)" font-size="7.9" text-anchor="middle" fill="#3f72a3" stroke="#3f72a3" stroke-width=".28" class="lt">Data</text><text transform="translate(757.2 227.5) scale(.985 1)" font-size="7.9" text-anchor="middle" fill="#3f72a3" stroke="#3f72a3" stroke-width=".28" class="lt">Lineage</text>
<rect x="755.5" y="239.5" width="34.0" height="22.5" rx="2" fill="#fff" opacity=".35" filter="url(#b1)"/><rect x="757.0" y="241.0" width="31.0" height="19.5" rx="1.6" fill="#fff"/><text transform="translate(772.5 249.7) scale(.985 1)" font-size="7.9" text-anchor="middle" fill="#3f72a3" stroke="#3f72a3" stroke-width=".28" class="lt">Data</text><text transform="translate(772.5 256.7) scale(.985 1)" font-size="7.9" text-anchor="middle" fill="#3f72a3" stroke="#3f72a3" stroke-width=".28" class="lt">Quality</text>
<rect x="611.5" y="201.0" width="43.0" height="23.0" rx="2" fill="#fff" opacity=".35" filter="url(#b1)"/><rect x="613.0" y="202.5" width="40.0" height="20.0" rx="1.6" fill="#fff"/><text transform="translate(633.0 211.5) scale(.985 1)" font-size="7.9" text-anchor="middle" fill="#3f72a3" stroke="#3f72a3" stroke-width=".28" class="lt">Public</text><text transform="translate(633.0 218.5) scale(.985 1)" font-size="7.9" text-anchor="middle" fill="#3f72a3" stroke="#3f72a3" stroke-width=".28" class="lt">Summary</text>
<rect x="678.5" y="226.5" width="41.8" height="22.0" rx="2" fill="#fff" opacity=".35" filter="url(#b1)"/><rect x="680.0" y="228.0" width="38.8" height="19.0" rx="1.6" fill="#fff"/><text transform="translate(699.4 236.5) scale(.985 1)" font-size="7.9" text-anchor="middle" fill="#3f72a3" stroke="#3f72a3" stroke-width=".28" class="lt">Operatio-</text><text transform="translate(699.4 243.5) scale(.985 1)" font-size="7.9" text-anchor="middle" fill="#3f72a3" stroke="#3f72a3" stroke-width=".28" class="lt">nal Data</text>
<rect x="716.0" y="254.1" width="23.0" height="20.9" rx="2" fill="#fff" opacity=".35" filter="url(#b1)"/><rect x="717.5" y="255.6" width="20.0" height="17.9" rx="1.6" fill="#fff"/><text transform="translate(727.5 263.5) scale(.985 1)" font-size="7.9" text-anchor="middle" fill="#3f72a3" stroke="#3f72a3" stroke-width=".28" class="lt">Data</text><text transform="translate(727.5 270.5) scale(.985 1)" font-size="7.9" text-anchor="middle" fill="#3f72a3" stroke="#3f72a3" stroke-width=".28" class="lt">Map</text>
<g transform="translate(510.0 75.0) rotate(30.8)"><text x="0" y="2.6" font-size="7.6" font-weight="bold" font-style="italic" fill="#184e88" stroke="#184e88" stroke-width=".7" textLength="60.5" lengthAdjust="spacingAndGlyphs" filter="url(#b0)">Intelligent design</text></g>
<g transform="translate(680.0 59.0) rotate(31.2)"><text x="0" y="2.6" font-size="7.6" font-weight="bold" font-style="italic" fill="#184e88" stroke="#184e88" stroke-width=".7" textLength="88.8" lengthAdjust="spacingAndGlyphs" filter="url(#b0)">Intelligent Manufacturing</text></g>
<g transform="translate(721.4 149.6) rotate(28.4)"><text x="0" y="2.6" font-size="7.6" font-weight="bold" font-style="italic" fill="#184e88" stroke="#184e88" stroke-width=".7" textLength="56.1" lengthAdjust="spacingAndGlyphs" filter="url(#b0)">Unified Query</text></g>
<g transform="translate(726.7 160.3) rotate(28.5)"><text x="0" y="2.6" font-size="7.6" font-weight="bold" font-style="italic" fill="#184e88" stroke="#184e88" stroke-width=".7" textLength="29.8" lengthAdjust="spacingAndGlyphs" filter="url(#b0)">Service</text></g>
<g transform="translate(849.0 141.6) rotate(30.0)"><text x="0" y="2.6" font-size="7.6" font-weight="bold" font-style="italic" fill="#184e88" stroke="#184e88" stroke-width=".7" textLength="71.4" lengthAdjust="spacingAndGlyphs" filter="url(#b0)">Intelligent Operation</text></g>
<g transform="translate(848.4 148.8) rotate(29.7)"><text x="0" y="2.6" font-size="7.6" font-weight="bold" font-style="italic" fill="#184e88" stroke="#184e88" stroke-width=".7" textLength="58.8" lengthAdjust="spacingAndGlyphs" filter="url(#b0)">and Maintenance</text></g>
<g transform="translate(818.0 277.0) rotate(30.7)"><text x="0" y="2.6" font-size="7.6" font-weight="bold" font-style="italic" fill="#184e88" stroke="#184e88" stroke-width=".7" textLength="78.5" lengthAdjust="spacingAndGlyphs" filter="url(#b0)">Intelligent Application</text></g>
<g transform="translate(341.0 314.0) rotate(31.0)"><text x="0" y="2.6" font-size="7.6" font-weight="bold" font-style="italic" fill="#184e88" stroke="#184e88" stroke-width=".7" textLength="87.5" lengthAdjust="spacingAndGlyphs" filter="url(#b0)">Relational Database/Non-</text></g>
<g transform="translate(332.0 319.0) rotate(30.0)"><text x="0" y="2.6" font-size="7.6" font-weight="bold" font-style="italic" fill="#184e88" stroke="#184e88" stroke-width=".7" textLength="69.9" lengthAdjust="spacingAndGlyphs" filter="url(#b0)">Relational Database</text></g>
<g transform="translate(352.5 425.0) rotate(31.0)"><text x="0" y="2.6" font-size="7.6" font-weight="bold" font-style="italic" fill="#184e88" stroke="#184e88" stroke-width=".7" textLength="83.4" lengthAdjust="spacingAndGlyphs" filter="url(#b0)">Real-time Data Stream</text></g>
<g transform="translate(525.0 465.0) rotate(30.6)"><text x="0" y="2.6" font-size="7.6" font-weight="bold" font-style="italic" fill="#184e88" stroke="#184e88" stroke-width=".7" textLength="76.7" lengthAdjust="spacingAndGlyphs" filter="url(#b0)">Semi-Structured Data</text></g>
</g></svg></body></html>
